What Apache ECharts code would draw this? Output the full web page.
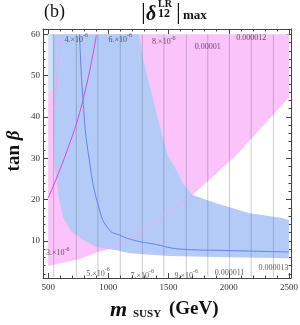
<!DOCTYPE html>
<html>
<head>
<meta charset="utf-8">
<script src="https://cdn.jsdelivr.net/npm/echarts@6/dist/echarts.min.js"></script>
<style>html,body{margin:0;padding:0;background:#fff}#c{width:300px;height:325px}</style>
</head>
<body>
<div id="c"></div>
<script>
// ---- data ----
const xMajorTicks = [500, 1000, 1500, 2000, 2500];
const xMinorTicks = [500,600,700,800,900,1000,1100,1200,1300,1400,1500,1600,1700,1800,1900,2000,2100,2200,2300,2400,2500];
const yMajorTicks = [10, 20, 30, 40, 50, 60];
const yMinorTicks = [2,4,6,8,10,12,14,16,18,20,22,24,26,28,30,32,34,36,38,40,42,44,46,48,50,52,54,56,58,60];

// pink region (boundary)
const pinkLower = [[500,3.9],[761,5.6],[952,7.7],[1176,10.6],[1425,15.5],[1700,21.1],[2064,30.8],[2500,44.8]];
const pinkUpperLeft = [[2500,60],[607,60],[580,55],[554,49],[530,46.5],[500,45.8]];
// pale strip at the top-left corner
const paleStrip = [[500,60],[536,60],[540,46.6],[530,46.5],[500,45.8]];
// blue region
const blueLower = [[535,60],[540,44],[541,37],[554,28],[588,20.3],[623,15.8],[693,12.2],[789,10.2],[900,8.5],[1066,7.75],[1176,7.0],[1508,6.3],[2006,6.05],[2500,5.8]];
const blueUpper = [[2500,15.0],[2446,15.5],[2172,16.7],[1896,19.1],[1699,21.1],[1616,24.0],[1550,27.9],[1492,30.8],[1425,38.0],[1356,46.0],[1287,54.3],[1253,60]];
// faint pink boundary lines seen through the blue region
const pinkEdgeInBlue = [[952,7.7],[1176,10.6],[1425,15.5],[1700,21.1]];
const pinkEdgeLeftInBlue = [[609,60],[580,52],[554,42.9],[537,41.6]];
// curves
const magentaCurve = [[500,20.4],[650,31.3],[789,44.1],[900,59.8]];
const blueCurve = [[761,60],[789,44.1],[837,30.5],[927,17.4],[1010,12.6],[1093,11.4],[1204,10.2],[1342,9.4],[1647,7.9],[1921,7.7],[2500,7.3]];
// contour lines of |delta|max
const contourX = [546,734,913,1099,1282,1461,1647,1826,2006,2186,2371];
const contourYRange = [1.3, 60];
const contourLabels = ['3.×10^-6','4.×10^-6','5.×10^-6','6.×10^-6','7.×10^-6','8.×10^-6','9.×10^-6','0.00001','0.000011','0.000012','0.000013'];
const contourLabelPos = [[579,7.4],[734,59.1],[913,2.4],[1099,59.1],[1282,1.9],[1461,58.5],[1647,1.9],[1826,57.4],[2006,2.7],[2186,59.6],[2371,3.75]];

// ---- chart ----
const X_MIN = 457, X_MAX = 2517, Y_MIN = 1, Y_MAX = 61.3;
const FRAME = '#444';
const SERIF = '"Liberation Serif","DejaVu Serif",serif';

function polySeries(points, color, z) {
  return {
    type: 'custom', z: z, clip: true, silent: true,
    data: [0],
    renderItem: function (params, api) {
      return { type: 'polygon', shape: { points: points.map(p => api.coord(p)) }, style: { fill: color } };
    }
  };
}
function lineSeries(points, color, width, z, smooth) {
  return { type: 'line', data: points, showSymbol: false, symbol: 'none', smooth: !!smooth, z: z, silent: true,
    lineStyle: { color: color, width: width }, animation: false };
}

function xAxisDef(pos, ticks, len, showLine, showLabel) {
  return { type: 'value', min: X_MIN, max: X_MAX, position: pos, gridIndex: 0,
    axisLine: { show: showLine, onZero: false, lineStyle: { color: FRAME, width: 1 } },
    axisTick: { show: true, inside: true, length: len, customValues: ticks, lineStyle: { color: FRAME } },
    axisLabel: { show: showLabel, customValues: xMajorTicks, formatter: v => String(v), fontFamily: SERIF, fontSize: 9, color: '#333', margin: 5 },
    splitLine: { show: false } };
}
function yAxisDef(pos, ticks, len, showLine, showLabel) {
  return { type: 'value', min: Y_MIN, max: Y_MAX, position: pos, gridIndex: 0,
    axisLine: { show: showLine, onZero: false, lineStyle: { color: FRAME, width: 1 } },
    axisTick: { show: true, inside: true, length: len, customValues: ticks, lineStyle: { color: FRAME } },
    axisLabel: { show: showLabel, customValues: yMajorTicks, formatter: v => String(v), fontFamily: SERIF, fontSize: 9, color: '#333', margin: 3 },
    splitLine: { show: false } };
}

const series = [];
series.push(polySeries(pinkLower.concat(pinkUpperLeft), '#fac3fa', 1));
series.push(polySeries(paleStrip, '#d3e0fa', 1));
series.push(polySeries(blueLower.concat(blueUpper), '#b4cbf8', 2));
contourX.forEach(x => series.push(lineSeries([[x, contourYRange[0]], [x, contourYRange[1]]], 'rgba(90,90,110,0.32)', 1, 3)));
series.push(lineSeries(pinkEdgeInBlue, 'rgba(245,160,245,0.75)', 1, 4, true));
series.push(lineSeries(pinkEdgeLeftInBlue, 'rgba(245,160,245,0.75)', 1, 4, true));
series.push(lineSeries(magentaCurve, '#dd44e6', 1, 5, true));
series.push(lineSeries(blueCurve, '#6680ee', 1, 5, true));
series.push({
  type: 'scatter', symbolSize: 0, z: 6, silent: true,
  data: contourLabelPos.map((p, i) => ({ value: p, name: contourLabels[i] })),
  label: {
    show: true, position: 'inside',
    formatter: function (d) {
      const parts = d.name.split('^');
      return parts.length > 1 ? '{a|' + parts[0] + '}{s|' + parts[1] + '}' : '{a|' + parts[0] + '}';
    },
    rich: {
      a: { fontFamily: SERIF, fontSize: 8, color: '#333', lineHeight: 11, verticalAlign: 'bottom' },
      s: { fontFamily: SERIF, fontSize: 6, color: '#333', lineHeight: 11, verticalAlign: 'top' }
    }
  }
});

const chart = echarts.init(document.getElementById('c'), null, { renderer: 'canvas' });
chart.setOption({
  animation: false,
  backgroundColor: '#fff',
  grid: { left: 43, top: 29, right: 9, bottom: 47, outerBoundsMode: 'none', containLabel: false },
  xAxis: [
    xAxisDef('bottom', xMajorTicks, 5, true, true),
    xAxisDef('bottom', xMinorTicks, 2.5, false, false),
    xAxisDef('top', xMajorTicks, 5, true, false),
    xAxisDef('top', xMinorTicks, 2.5, false, false)
  ],
  yAxis: [
    yAxisDef('left', yMajorTicks, 5, true, true),
    yAxisDef('left', yMinorTicks, 2.5, false, false),
    yAxisDef('right', yMajorTicks, 5, true, false),
    yAxisDef('right', yMinorTicks, 2.5, false, false)
  ],
  series: series,
  graphic: [
    { type: 'text', left: 44, top: 3, style: { text: '(b)', font: '18px ' + SERIF, fill: '#111' } },
    { type: 'text', left: 141, top: 1, style: { text: '|', font: '24px ' + SERIF, fill: '#111' } },
    { type: 'text', left: 146, top: 5, style: { text: 'δ', font: 'italic bold 20px ' + SERIF, fill: '#111' } },
    { type: 'text', left: 158, top: -1, style: { text: 'LR', font: 'bold 10px ' + SERIF, fill: '#111' } },
    { type: 'text', left: 158, top: 8, style: { text: '12', font: 'bold 12px ' + SERIF, fill: '#111' } },
    { type: 'text', left: 176, top: 1, style: { text: '|', font: '24px ' + SERIF, fill: '#111' } },
    { type: 'text', left: 183, top: 9, style: { text: 'max', font: 'bold 13px ' + SERIF, fill: '#111' } },
    { type: 'text', x: 14, y: 151, rotation: Math.PI / 2,
      style: { text: '{t|tan }{b|β}', align: 'center', verticalAlign: 'middle',
        rich: { t: { font: 'bold 19px ' + SERIF, fill: '#111' }, b: { font: 'italic bold 19px ' + SERIF, fill: '#111' } } } },
    { type: 'text', left: 110, top: 299, style: { text: 'm', font: 'italic bold 22px ' + SERIF, fill: '#111' } },
    { type: 'text', left: 133, top: 309, style: { text: 'SUSY', font: 'bold 11px ' + SERIF, fill: '#111' } },
    { type: 'text', left: 169, top: 300, style: { text: '(GeV)', font: 'bold 19px ' + SERIF, fill: '#111' } }
  ]
});
</script>
</body>
</html>
